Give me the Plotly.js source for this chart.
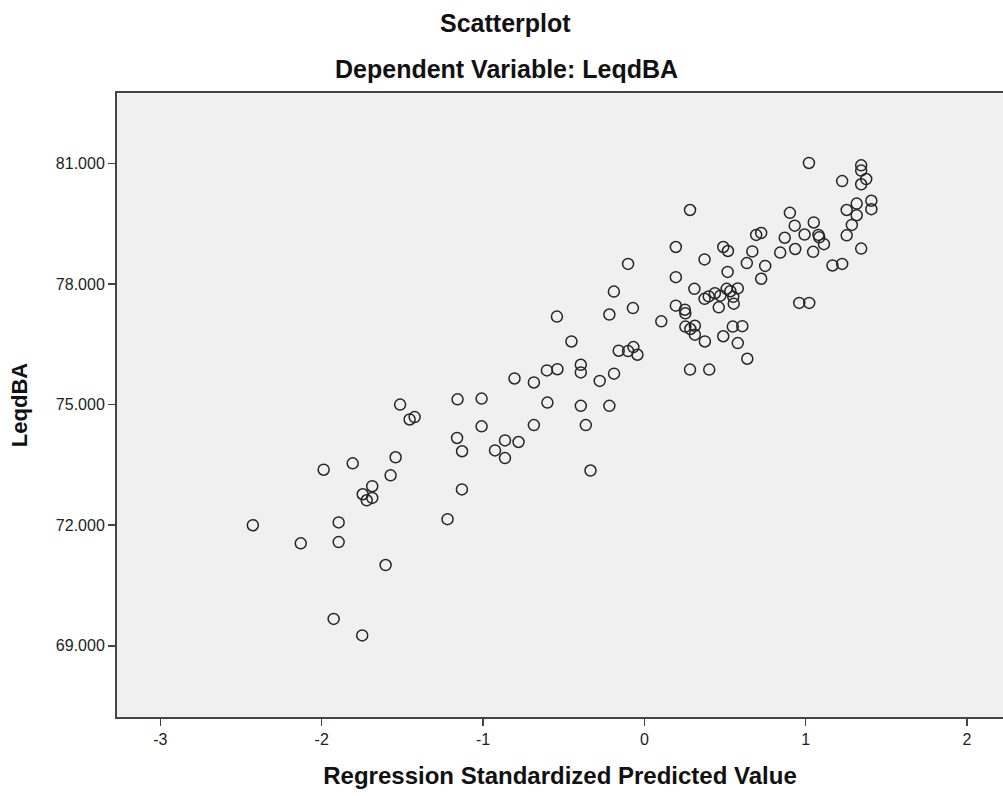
<!DOCTYPE html>
<html>
<head>
<meta charset="utf-8">
<script src="https://cdn.plot.ly/plotly-3.0.1.min.js"></script>
<style>
  html, body { margin: 0; padding: 0; background: #ffffff; overflow: hidden; }
  #chart { width: 1003px; height: 796px; }
</style>
</head>
<body>
<div id="chart"></div>
<script>
// Regression Standardized Predicted Value (x) vs LeqdBA (y)
const predicted = [
  -2.427, -2.130, -1.895, -1.895, -1.988, -1.808, -1.746, -1.721, -1.687, -1.687,
  -1.573, -1.542, -1.514, -1.455, -1.424, -1.604, -1.926, -1.749, -1.158, -1.161,
  -1.130, -1.131, -1.220, -1.009, -1.009, -0.864, -0.780, -0.926, -0.864, -0.805,
  -0.685, -0.604, -0.539, -0.601, -0.685, -0.542, -0.452, -0.394, -0.394, -0.394,
  -0.363, -0.334, -0.277, -0.217, -0.188, -0.217, -0.189, -0.159, -0.101, -0.068,
  -0.043, -0.071, -0.101, 0.105, 0.195, 0.195, 0.195, 0.283, 0.310, 0.251,
  0.254, 0.254, 0.285, 0.313, 0.313, 0.283, 0.402, 0.373, 0.375, 0.489,
  0.548, 0.607, 0.579, 0.638, 0.373, 0.399, 0.437, 0.461, 0.471, 0.510,
  0.533, 0.551, 0.579, 0.554, 0.489, 0.518, 0.516, 0.635, 0.669, 0.693,
  0.724, 0.749, 0.724, 0.870, 0.842, 0.902, 0.932, 0.935, 0.993, 1.050,
  1.046, 1.079, 1.084, 1.113, 0.960, 1.022, 1.020, 1.166, 1.226, 1.226,
  1.254, 1.254, 1.286, 1.316, 1.316, 1.344, 1.344, 1.344, 1.375, 1.344,
  1.407, 1.407
];
const leqdBA = [
  72.00, 71.55, 72.07, 71.58, 73.38, 73.54, 72.77, 72.62, 72.97, 72.68,
  73.24, 73.69, 75.00, 74.63, 74.69, 71.01, 69.67, 69.26, 75.13, 74.17,
  73.84, 72.89, 72.15, 75.15, 74.46, 74.11, 74.07, 73.86, 73.67, 75.65,
  75.55, 75.85, 75.88, 75.05, 74.49, 77.19, 76.57, 75.99, 75.80, 74.97,
  74.49, 73.36, 75.59, 74.97, 75.77, 77.24, 77.81, 76.34, 76.33, 76.43,
  76.24, 77.40, 78.50, 77.07, 78.92, 78.17, 77.46, 79.84, 77.88, 77.36,
  77.27, 76.94, 76.88, 76.96, 76.74, 75.87, 75.87, 78.61, 76.57, 76.70,
  76.94, 76.95, 76.53, 76.14, 77.63, 77.69, 77.77, 77.42, 77.71, 77.88,
  77.82, 77.68, 77.89, 77.51, 78.92, 78.82, 78.30, 78.52, 78.81, 79.22,
  79.27, 78.45, 78.13, 79.15, 78.78, 79.77, 79.45, 78.87, 79.23, 79.53,
  78.80, 79.22, 79.16, 78.99, 77.53, 77.53, 81.01, 78.46, 78.50, 80.56,
  79.21, 79.84, 79.47, 80.00, 79.71, 78.88, 80.95, 80.82, 80.61, 80.48,
  80.07, 79.86
];
const xTickVals = [-3, -2, -1, 0, 1, 2];
const yTickVals = [69, 72, 75, 78, 81];
const chartTitle = "Scatterplot";
const chartSubtitle = "Dependent Variable: LeqdBA";
const xTitle = "Regression Standardized Predicted Value";
const yTitle = "LeqdBA";

const FONT = "'Liberation Sans', Arial, sans-serif";

const trace = {
  type: "scatter",
  mode: "markers",
  x: predicted,
  y: leqdBA,
  marker: {
    symbol: "circle-open",
    size: 11,
    color: "#262626",
    line: { width: 1.5, color: "#262626" }
  },
  hoverinfo: "x+y"
};

const L = 117, R = 0, T = 93, B = 79;
const W = 1003, H = 796;
const plotW = W - L - R;
function paperX(px) { return (px - L) / plotW; }

const layout = {
  width: W,
  height: H,
  margin: { l: L, r: R, t: T, b: B, pad: 0 },
  paper_bgcolor: "#ffffff",
  plot_bgcolor: "#f0f0f0",
  showlegend: false,
  font: { family: FONT, color: "#1a1a1a" },
  xaxis: {
    range: [-3.269, 2.223],
    tickvals: xTickVals,
    ticktext: xTickVals.map(String),
    ticks: "outside",
    ticklen: 7,
    tickwidth: 1.5,
    tickcolor: "#444",
    showline: true,
    linecolor: "#444",
    linewidth: 2,
    mirror: true,
    showgrid: false,
    zeroline: false,
    tickfont: { family: FONT, size: 16, color: "#222" },
    title: { text: xTitle, font: { family: FONT, size: 24, color: "#111", weight: "bold" }, standoff: 20 }
  },
  yaxis: {
    range: [67.23, 82.75],
    tickvals: yTickVals,
    ticktext: yTickVals.map(v => v.toFixed(3)),
    ticks: "outside",
    ticklen: 7,
    tickwidth: 1.5,
    tickcolor: "#444",
    showline: true,
    linecolor: "#444",
    linewidth: 2,
    mirror: false,
    showgrid: false,
    zeroline: false,
    tickfont: { family: FONT, size: 16, color: "#222" },
    title: { text: yTitle, font: { family: FONT, size: 22, color: "#111", weight: "bold" }, standoff: 22 }
  },
  annotations: [
    {
      text: chartTitle, xref: "paper", yref: "paper",
      x: paperX(505.5), y: 1 + (93 - 23) / (H - T - B),
      xanchor: "center", yanchor: "middle", showarrow: false,
      font: { family: FONT, size: 25, color: "#111", weight: "bold" }
    },
    {
      text: chartSubtitle, xref: "paper", yref: "paper",
      x: paperX(506), y: 1 + (93 - 69) / (H - T - B),
      xanchor: "center", yanchor: "middle", showarrow: false,
      font: { family: FONT, size: 25, color: "#111", weight: "bold" }
    }
  ]
};

Plotly.newPlot("chart", [trace], layout, { displayModeBar: false, staticPlot: true });
</script>
</body>
</html>
